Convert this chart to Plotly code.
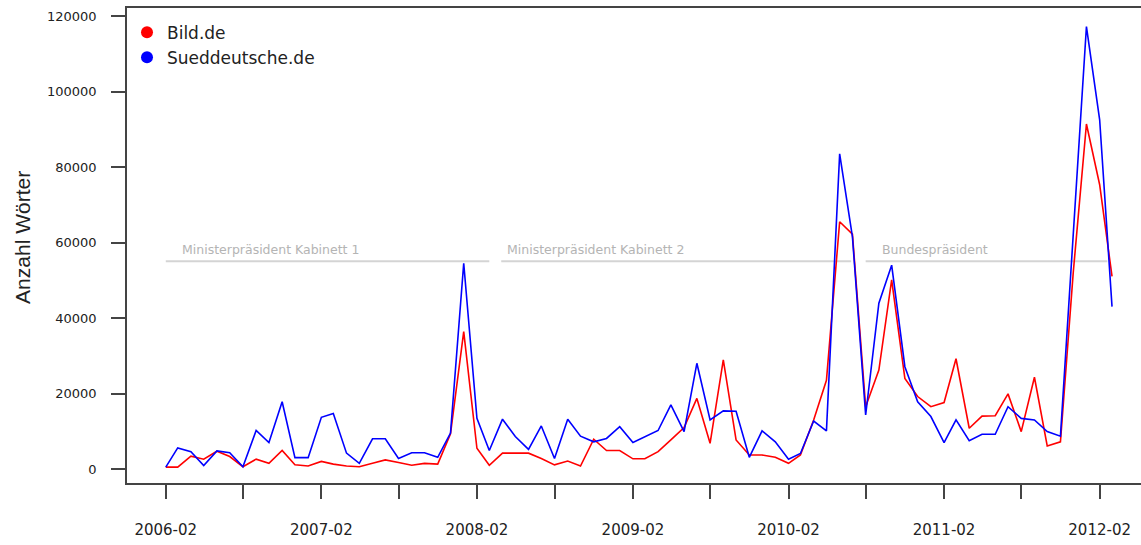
import pandas as pd
import plotly.graph_objects as go

# ---- data ----
months = pd.date_range(start="2006-02-01", periods=74, freq="MS")

bild = [500, 500, 3400, 2600, 4700, 3300, 600, 2600, 1500, 4900,
        1100, 800, 2000, 1300, 800, 600, 1500, 2400, 1700, 1000,
        1500, 1300, 9300, 36400, 5500, 1000, 4200, 4200, 4200, 2800,
        1100, 2100, 800, 7900, 4900, 4900, 2700, 2700, 4600, 7700,
        11000, 18700, 6800, 28900, 7700, 3700, 3700, 3100, 1500, 3700,
        13000, 23500, 65500, 62200, 16500, 26200, 50100, 24000, 19200, 16500,
        17600, 29200, 10800, 14000, 14100, 19900, 9900, 24300, 6100, 7200,
        52000, 91400, 75300, 51000]

sueddeutsche = [500, 5600, 4600, 900, 4800, 4300, 600, 10200, 7000, 17800,
                3000, 3000, 13700, 14700, 4200, 1500, 8000, 8000, 2800, 4300,
                4300, 3100, 9500, 54500, 13400, 4900, 13200, 8600, 5200, 11400,
                2800, 13200, 8700, 7200, 8100, 11200, 7000, 8600, 10200, 17000,
                9900, 28000, 13000, 15400, 15300, 3100, 10100, 7200, 2600, 4100,
                12700, 10100, 83500, 61500, 14300, 43900, 54000, 27100, 17800, 13900,
                7000, 13000, 7500, 9200, 9200, 16500, 13400, 13000, 9900, 8700,
                61500, 117200, 92500, 43000]

period_labels = ["Ministerpräsident Kabinett 1", "Ministerpräsident Kabinett 2", "Bundespräsident"]
period_starts = ["2006-02-01", "2008-03-29", "2010-08-01"]
period_ends = ["2008-03-01", "2010-06-28", "2012-02-19"]
period_label_x = ["2006-03-06", "2008-04-07", "2010-09-04"]
period_level = 55000

y_ticks = [0, 20000, 40000, 60000, 80000, 100000, 120000]
x_tick_vals = pd.date_range(start="2006-02-01", end="2012-02-01", freq="6MS")
x_tick_text = [d.strftime("%Y-%m") if d.month == 2 else "" for d in x_tick_vals]

FONT = "DejaVu Sans"
AXC = "#444444"

fig = go.Figure()

# period segments
for s, e in zip(period_starts, period_ends):
    fig.add_trace(go.Scatter(x=[s, e], y=[period_level, period_level], mode="lines",
                             line=dict(color="#d4d4d4", width=2), showlegend=False,
                             hoverinfo="skip"))

fig.add_trace(go.Scatter(x=months, y=bild, mode="lines", name="Bild.de",
                         line=dict(color="#ff0000", width=1.6), showlegend=False))
fig.add_trace(go.Scatter(x=months, y=sueddeutsche, mode="lines", name="Sueddeutsche.de",
                         line=dict(color="#0000ff", width=1.6), showlegend=False))

# legend entries (dots)
fig.add_trace(go.Scatter(x=[None], y=[None], mode="markers", name="Bild.de",
                         marker=dict(color="#ff0000", size=10)))
fig.add_trace(go.Scatter(x=[None], y=[None], mode="markers", name="Sueddeutsche.de",
                         marker=dict(color="#0000ff", size=10)))

for lab, lx in zip(period_labels, period_label_x):
    fig.add_annotation(x=lx, y=period_level, text=lab, showarrow=False,
                       xanchor="left", yanchor="bottom", yshift=2,
                       font=dict(family=FONT, size=12.5, color="#b4b4b4"))

fig.add_annotation(text="Anzahl Wörter", xref="paper", yref="paper", x=0, y=0.516,
                   xanchor="center", yanchor="middle", xshift=-104, textangle=-90,
                   showarrow=False, font=dict(family="Liberation Sans", size=21, color="#222222"))

fig.update_layout(
    width=1141, height=545,
    margin=dict(l=127, r=0, t=8, b=62, autoexpand=False),
    paper_bgcolor="white", plot_bgcolor="white",
    showlegend=True,
    legend=dict(x=0.0, y=0.986, xanchor="left", yanchor="top",
                bgcolor="rgba(0,0,0,0)", borderwidth=0,
                font=dict(family=FONT, size=17, color="#222222"),
                tracegroupgap=0, itemsizing="constant"),
    font=dict(family=FONT),
)

fig.update_xaxes(
    type="date", range=["2005-11-02", "2012-05-08"], automargin=False,
    tickvals=x_tick_vals, ticktext=x_tick_text,
    ticks="outside", ticklen=14, tickwidth=1.5, tickcolor=AXC,
    showline=True, linecolor=AXC, linewidth=1.5, mirror=True,
    showgrid=False, zeroline=False,
    tickfont=dict(family=FONT, size=15, color="#222222"),
    ticklabelstandoff=18,
)
fig.update_yaxes(
    range=[-3709, 122119], automargin=False,
    tickvals=y_ticks, ticktext=[str(v) for v in y_ticks],
    ticks="outside", ticklen=14, tickwidth=1.5, tickcolor=AXC,
    showline=True, linecolor=AXC, linewidth=1.5,
    showgrid=False, zeroline=False,
    tickfont=dict(family=FONT, size=13, color="#222222"),
    ticklabelstandoff=12,
)

fig.write_html("out.html", config={"displayModeBar": False},
               post_script="document.body.style.margin='0';document.body.style.overflow='hidden';")
